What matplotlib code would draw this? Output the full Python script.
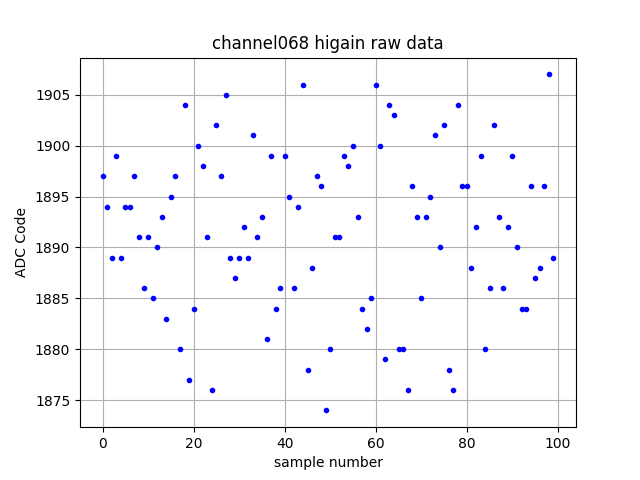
import matplotlib
matplotlib.use("Agg")
import matplotlib.pyplot as plt
import numpy as np

sample_number = list(range(100))
adc_code = [
    1897, 1894, 1889, 1899, 1889, 1894, 1894, 1897, 1891, 1886,
    1891, 1885, 1890, 1893, 1883, 1895, 1897, 1880, 1904, 1877,
    1884, 1900, 1898, 1891, 1876, 1902, 1897, 1905, 1889, 1887,
    1889, 1892, 1889, 1901, 1891, 1893, 1881, 1899, 1884, 1886,
    1899, 1895, 1886, 1894, 1906, 1878, 1888, 1897, 1896, 1874,
    1880, 1891, 1891, 1899, 1898, 1900, 1893, 1884, 1882, 1885,
    1906, 1900, 1879, 1904, 1903, 1880, 1880, 1876, 1896, 1893,
    1885, 1893, 1895, 1901, 1890, 1902, 1878, 1876, 1904, 1896,
    1896, 1888, 1892, 1899, 1880, 1886, 1902, 1893, 1886, 1892,
    1899, 1890, 1884, 1884, 1896, 1887, 1888, 1896, 1907, 1889,
]

fig, ax = plt.subplots(figsize=(6.4, 4.8), dpi=100)
ax.plot(sample_number, adc_code, 'b.')
ax.set_title("channel068 higain raw data")
ax.set_xlabel("sample number")
ax.set_ylabel("ADC Code")
ax.grid(True)
fig.savefig("out.png")
